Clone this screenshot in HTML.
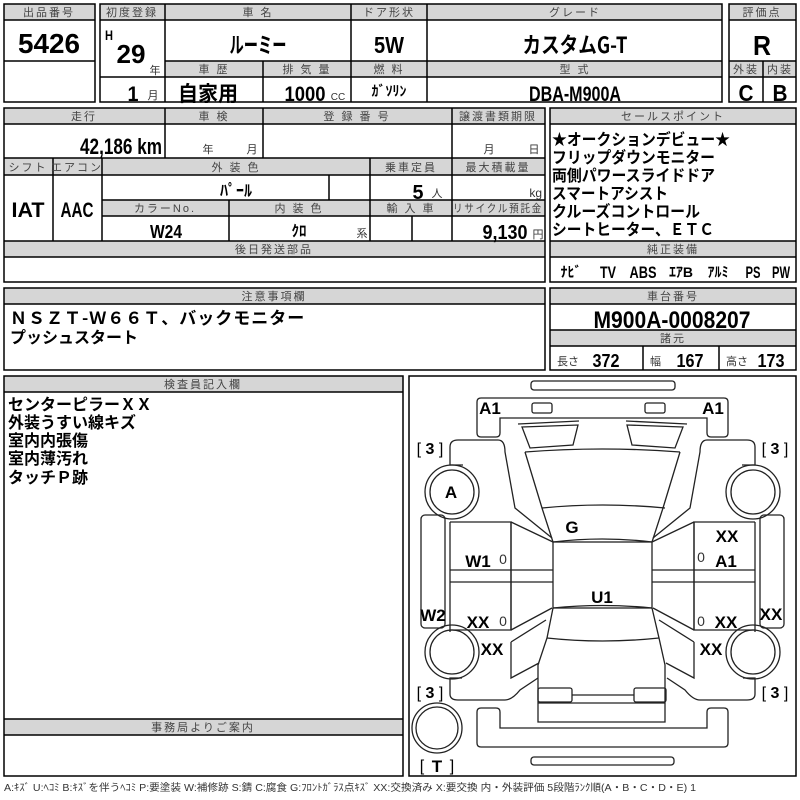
<!DOCTYPE html>
<html><head><meta charset="utf-8"><style>
html,body{margin:0;padding:0;background:#fff;}
svg{display:block}
text{font-family:"Liberation Sans","Noto Sans CJK JP",sans-serif;}
.h{font-size:11px;fill:#444;text-anchor:middle;letter-spacing:2px}
.v{font-family:"Liberation Sans","Noto Sans CJK JP",sans-serif;font-weight:bold;fill:#000;text-anchor:middle}
.t{font-family:"Noto Sans CJK JP",sans-serif;font-weight:bold;fill:#000}
.g{fill:#d6d6d6}
.k{font-family:"Liberation Sans",sans-serif;font-weight:bold;font-size:17px;text-anchor:middle}
</style></head><body>
<svg width="800" height="800" viewBox="0 0 800 800" xmlns="http://www.w3.org/2000/svg">
<rect width="800" height="800" fill="#fff"/>
<g class="g">
<rect x="4" y="4" width="91" height="16"/>
<rect x="100" y="4" width="622" height="16"/>
<rect x="165" y="61" width="557" height="16"/>
<rect x="729" y="4" width="67" height="16"/>
<rect x="729" y="61" width="67" height="16"/>
<rect x="4" y="108" width="541" height="16"/>
<rect x="4" y="158" width="541" height="17"/>
<rect x="102" y="200" width="443" height="16"/>
<rect x="4" y="241" width="541" height="16"/>
<rect x="550" y="108" width="246" height="16"/>
<rect x="550" y="241" width="246" height="16"/>
<rect x="4" y="288" width="541" height="16"/>
<rect x="550" y="288" width="246" height="16"/>
<rect x="550" y="330" width="246" height="16"/>
<rect x="4" y="376" width="399" height="16"/>
<rect x="4" y="719" width="399" height="16"/>
</g>
<g fill="none" stroke="#000" stroke-width="1.5">
<rect x="4" y="4" width="91" height="98"/>
<path d="M4 20H95M4 61H95"/>
<rect x="100" y="4" width="622" height="98"/>
<path d="M100 20H722M165 61H722M100 77H722M165 4V102M351 4V102M427 4V102M263 61V102"/>
<rect x="729" y="4" width="67" height="98"/>
<path d="M729 20H796M729 61H796M729 77H796M763 61V102"/>
<rect x="4" y="108" width="541" height="174"/>
<path d="M4 124H545M4 158H545M4 175H545M102 200H545M102 216H545M4 241H545M4 257H545M165 108V158M263 108V158M452 108V241M53 158V241M102 158V241M370 158V241M329 175V200M229 200V241M412 216V241"/>
<rect x="550" y="108" width="246" height="174"/>
<path d="M550 124H796M550 241H796M550 257H796"/>
<rect x="4" y="288" width="541" height="82"/>
<path d="M4 304H545"/>
<rect x="550" y="288" width="246" height="82"/>
<path d="M550 304H796M550 330H796M550 346H796M643 346V370M719 346V370"/>
<rect x="4" y="376" width="399" height="400"/>
<path d="M4 392H403M4 719H403M4 735H403"/>
<rect x="409" y="376" width="387" height="400"/>
</g>
<text class="h" x="49" y="16">出品番号</text>
<text class="v" x="49" y="53" font-size="28" textLength="62" lengthAdjust="spacingAndGlyphs">5426</text>
<text class="h" x="132" y="16" letter-spacing="0">初度登録</text>
<text class="h" x="258" y="16">車 名</text>
<text class="h" x="389" y="16" letter-spacing="0">ドア形状</text>
<text class="h" x="575" y="16" letter-spacing="8">グレード</text>
<text class="v" x="109" y="40" font-size="14" textLength="8" lengthAdjust="spacingAndGlyphs">H</text>
<text class="v" x="131" y="63" font-size="26" textLength="29" lengthAdjust="spacingAndGlyphs">29</text>
<text x="155" y="74" font-size="11" fill="#333" text-anchor="middle">年</text>
<text class="v" x="133" y="101" font-size="21" textLength="11" lengthAdjust="spacingAndGlyphs">1</text>
<text x="153" y="99" font-size="11" fill="#333" text-anchor="middle">月</text>
<text class="t" x="258" y="53" font-size="22" text-anchor="middle" textLength="57" lengthAdjust="spacingAndGlyphs">ルーミー</text>
<text class="v" x="389" y="53" font-size="23" textLength="30" lengthAdjust="spacingAndGlyphs">5W</text>
<text class="t" x="575" y="53" font-size="22" text-anchor="middle" textLength="105" lengthAdjust="spacingAndGlyphs">カスタムG-T</text>
<text class="h" x="214" y="73">車 歴</text>
<text class="h" x="307" y="73">排 気 量</text>
<text class="h" x="389" y="73">燃 料</text>
<text class="h" x="575" y="73">型 式</text>
<text class="t" x="208" y="101" font-size="21" text-anchor="middle" textLength="60" lengthAdjust="spacingAndGlyphs">自家用</text>
<text class="v" x="305" y="101" font-size="21" textLength="41" lengthAdjust="spacingAndGlyphs">1000</text>
<text x="338" y="100" font-size="10" fill="#333" text-anchor="middle">CC</text>
<text class="t" x="389" y="96" font-size="14" text-anchor="middle">ｶﾞｿﾘﾝ</text>
<text class="v" x="575" y="101" font-size="21" textLength="92" lengthAdjust="spacingAndGlyphs">DBA-M900A</text>
<text class="h" x="762" y="16" letter-spacing="0">評価点</text>
<text class="v" x="762" y="55" font-size="28" textLength="18" lengthAdjust="spacingAndGlyphs">R</text>
<text class="h" x="746" y="73" letter-spacing="0">外装</text>
<text class="h" x="780" y="73" letter-spacing="0">内装</text>
<text class="v" x="746" y="101" font-size="23" textLength="15" lengthAdjust="spacingAndGlyphs">C</text>
<text class="v" x="780" y="101" font-size="23" textLength="15" lengthAdjust="spacingAndGlyphs">B</text>
<text class="h" x="84" y="120" letter-spacing="6">走行</text>
<text class="h" x="214" y="120">車 検</text>
<text class="h" x="357" y="120">登 録 番 号</text>
<text class="h" x="498" y="120" letter-spacing="0">譲渡書類期限</text>
<text class="v" x="121" y="154" font-size="22" textLength="82" lengthAdjust="spacingAndGlyphs">42,186 km</text>
<text x="208" y="153" font-size="11" fill="#333" text-anchor="middle">年</text>
<text x="252" y="153" font-size="11" fill="#333" text-anchor="middle">月</text>
<text x="489" y="153" font-size="11" fill="#333" text-anchor="middle">月</text>
<text x="534" y="153" font-size="11" fill="#333" text-anchor="middle">日</text>
<text class="h" x="28" y="171" letter-spacing="0">シフト</text>
<text class="h" x="77" y="171" letter-spacing="0">エアコン</text>
<text class="h" x="236" y="171">外 装 色</text>
<text class="h" x="411" y="171" letter-spacing="0">乗車定員</text>
<text class="h" x="498" y="171" letter-spacing="0">最大積載量</text>
<text class="t" x="236" y="196" font-size="16" text-anchor="middle">ﾊﾟｰﾙ</text>
<text class="v" x="418" y="199" font-size="20" textLength="11" lengthAdjust="spacingAndGlyphs">5</text>
<text x="437" y="197" font-size="11" fill="#333" text-anchor="middle">人</text>
<text x="542" y="197" font-size="12" fill="#333" text-anchor="end">kg</text>
<text class="v" x="28" y="217" font-size="21" textLength="33" lengthAdjust="spacingAndGlyphs">IAT</text>
<text class="v" x="77" y="217" font-size="21" textLength="33" lengthAdjust="spacingAndGlyphs">AAC</text>
<text class="h" x="165" y="212" letter-spacing="5">カラーNo.</text>
<text class="h" x="299" y="212">内 装 色</text>
<text class="h" x="411" y="212">輸 入 車</text>
<text class="h" x="498" y="212" letter-spacing="0" textLength="90" lengthAdjust="spacingAndGlyphs">リサイクル預託金</text>
<text class="v" x="166" y="238" font-size="18" textLength="32" lengthAdjust="spacingAndGlyphs">W24</text>
<text class="t" x="299" y="236" font-size="15" text-anchor="middle">ｸﾛ</text>
<text x="362" y="237" font-size="11" fill="#333" text-anchor="middle">系</text>
<text class="v" x="505" y="239" font-size="20" textLength="45" lengthAdjust="spacingAndGlyphs">9,130</text>
<text x="538" y="238" font-size="11" fill="#333" text-anchor="middle">円</text>
<text class="h" x="274" y="253" letter-spacing="5">後日発送部品</text>
<text class="h" x="673" y="120" letter-spacing="9">セールスポイント</text>
<g class="t" font-size="16">
<text x="552" y="145" textLength="178" lengthAdjust="spacingAndGlyphs">★オークションデビュー★</text>
<text x="552" y="163" textLength="163" lengthAdjust="spacingAndGlyphs">フリップダウンモニター</text>
<text x="552" y="181" textLength="163" lengthAdjust="spacingAndGlyphs">両側パワースライドドア</text>
<text x="552" y="199" textLength="116" lengthAdjust="spacingAndGlyphs">スマートアシスト</text>
<text x="552" y="217" textLength="148" lengthAdjust="spacingAndGlyphs">クルーズコントロール</text>
<text x="552" y="235" textLength="162" lengthAdjust="spacingAndGlyphs">シートヒーター、ＥＴＣ</text>
</g>
<text class="h" x="673" y="253" letter-spacing="5">純正装備</text>
<g class="v" font-size="17">
<text x="571" y="277" font-family="Noto Sans CJK JP" font-size="14">ﾅﾋﾞ</text>
<text x="608" y="278" textLength="16" lengthAdjust="spacingAndGlyphs">TV</text>
<text x="643" y="278" textLength="27" lengthAdjust="spacingAndGlyphs">ABS</text>
<text x="681" y="277" font-family="Noto Sans CJK JP" font-size="14">ｴｱB</text>
<text x="718" y="277" font-family="Noto Sans CJK JP" font-size="14">ｱﾙﾐ</text>
<text x="753" y="278" textLength="15" lengthAdjust="spacingAndGlyphs">PS</text>
<text x="781" y="278" textLength="18" lengthAdjust="spacingAndGlyphs">PW</text>
</g>
<text class="h" x="274" y="300" letter-spacing="4">注意事項欄</text>
<text class="t" x="10" y="324" font-size="17" letter-spacing="1">ＮＳＺＴ-Ｗ６６Ｔ、バックモニター</text>
<text class="t" x="10" y="343" font-size="16">プッシュスタート</text>
<text class="h" x="673" y="300" letter-spacing="5">車台番号</text>
<text class="v" x="672" y="328" font-size="24" textLength="157" lengthAdjust="spacingAndGlyphs">M900A-0008207</text>
<text class="h" x="673" y="342" letter-spacing="5">諸元</text>
<text x="557" y="365" font-size="11" fill="#333">長さ</text>
<text class="v" x="606" y="367" font-size="18" textLength="27" lengthAdjust="spacingAndGlyphs">372</text>
<text x="650" y="365" font-size="11" fill="#333">幅</text>
<text class="v" x="690" y="367" font-size="18" textLength="27" lengthAdjust="spacingAndGlyphs">167</text>
<text x="726" y="365" font-size="11" fill="#333">高さ</text>
<text class="v" x="771" y="367" font-size="18" textLength="27" lengthAdjust="spacingAndGlyphs">173</text>
<text class="h" x="203" y="388" letter-spacing="5">検査員記入欄</text>
<g class="t" font-size="16">
<text x="8" y="410">センターピラーＸＸ</text>
<text x="8" y="428">外装うすい線キズ</text>
<text x="8" y="446">室内内張傷</text>
<text x="8" y="464">室内薄汚れ</text>
<text x="8" y="483">タッチＰ跡</text>
</g>
<text class="h" x="203" y="731" letter-spacing="8">事務局よりご案内</text>
<text x="4" y="791" font-size="10" fill="#333" textLength="692" lengthAdjust="spacingAndGlyphs">A:ｷｽﾞ U:ﾍｺﾐ B:ｷｽﾞを伴うﾍｺﾐ P:要塗装 W:補修跡 S:錆 C:腐食 G:ﾌﾛﾝﾄｶﾞﾗｽ点ｷｽﾞ XX:交換済み X:要交換 内・外装評価 5段階ﾗﾝｸ順(A・B・C・D・E) 1</text>
<g fill="none" stroke="#222" stroke-width="1.3">
<rect x="531" y="381" width="144" height="9" rx="3"/>
<path d="M477 402Q477 398 481 398H724Q728 398 728 402V433Q728 437 724 437H711Q707 437 707 433V418H500V433Q500 437 496 437H481Q477 437 477 433Z"/>
<rect x="532" y="403" width="20" height="10" rx="2"/>
<rect x="645" y="403" width="20" height="10" rx="2"/>
<rect x="531" y="757" width="143" height="8" rx="3"/>
<path d="M477 712Q477 708 481 708H496Q500 708 500 712V728H707V712Q707 708 711 708H724Q728 708 728 712V743Q728 747 724 747H481Q477 747 477 743Z"/>
<path d="M525 452Q602 446 680 452"/>
<path d="M542 508Q602 502 665 508"/>
<path d="M553 542Q602 536 652 542"/>
<rect x="553" y="542" width="99" height="66"/>
<path d="M553 608Q602 603 652 608"/>
<path d="M547 638Q602 644 659 638"/>
<path d="M553 608L547 638L538 665V722H665V665L659 638L652 608"/>
<path d="M538 703H665"/>
<rect x="538" y="688" width="34" height="14" rx="2"/>
<rect x="634" y="688" width="32" height="14" rx="2"/>
<path d="M572 695H634"/>
<g id="half">
<path d="M522 427L578 425L573 445L530 448Z"/>
<path d="M518 424L579 421"/>
<path d="M525 452L542 508L553 542"/>
<path d="M463 465H450V447Q450 440 458 440H498Q505 440 505 452L515 508L552 538"/>
<path d="M450 522V632"/>
<path d="M450 522H511V630H450"/>
<path d="M450 570H553M450 582H553"/>
<path d="M511 522V630M511 522L553 542M511 630L552 608"/>
<path d="M511 642L546 620M511 642V678L539 663"/>
<path d="M462 678H450V694Q450 700 458 700H505Q512 700 520 690L538 678"/>
<rect x="421" y="515" width="24" height="113" rx="4"/>
<circle cx="452" cy="492" r="27"/>
<circle cx="452" cy="492" r="22"/>
<circle cx="452" cy="652" r="27"/>
<circle cx="452" cy="652" r="22"/>
</g>
<use href="#half" transform="translate(1205 0) scale(-1 1)"/>
<circle cx="437" cy="728" r="25"/>
<circle cx="437" cy="728" r="21"/>
</g>
<g class="k">
<text x="490" y="414">A1</text>
<text x="713" y="414">A1</text>
<text x="451" y="498">A</text>
<text x="572" y="533">G</text>
<text x="478" y="567">W1</text>
<text x="727" y="542">XX</text>
<text x="726" y="567">A1</text>
<text x="602" y="603">U1</text>
<text x="433" y="621">W2</text>
<text x="478" y="628">XX</text>
<text x="726" y="628">XX</text>
<text x="771" y="620">XX</text>
<text x="492" y="655">XX</text>
<text x="711" y="655">XX</text>
<text x="437" y="772">T</text>
</g>
<g font-size="16" text-anchor="middle" font-family="Liberation Sans,sans-serif">
<text x="430" y="454">[ <tspan font-weight="bold">3</tspan> ]</text>
<text x="775" y="454">[ <tspan font-weight="bold">3</tspan> ]</text>
<text x="430" y="698">[ <tspan font-weight="bold">3</tspan> ]</text>
<text x="775" y="698">[ <tspan font-weight="bold">3</tspan> ]</text>
<text x="422" y="771">[</text><text x="452" y="771">]</text>
</g>
<g font-size="14" font-family="Liberation Sans,sans-serif" text-anchor="middle" fill="#333">
<text x="503" y="564">0</text><text x="701" y="562">0</text>
<text x="503" y="626">0</text><text x="701" y="626">0</text>
</g>
</svg>
</body></html>
